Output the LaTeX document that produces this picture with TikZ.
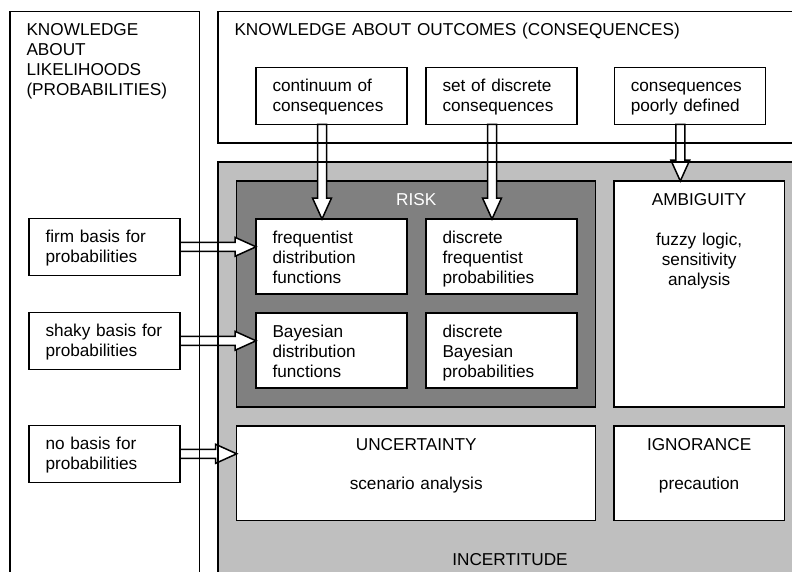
\documentclass[tikz,border=0pt]{standalone}
\usepackage{fontspec}
\setmainfont{Liberation Sans}
\usetikzlibrary{positioning,calc}

\definecolor{incertgray}{gray}{0.75}
\definecolor{riskgray}{gray}{0.5}

\tikzset{
    every node/.style={font=\fontsize{17.2}{20}\selectfont},
    box/.style={draw, fill=white, line width=1.5pt, outer sep=0pt, anchor=north west,
        align=left, inner xsep=16.5pt, inner ysep=5pt, text height=19pt},
    smallbox/.style={box, text width=118pt, text depth=28pt},
    riskbox/.style={box, text width=118pt, text depth=46pt},
    fatarrow/.style={draw, fill=white, line width=1.5pt,
        to path={($(\tikztostart)!4.5pt!90:(\tikztotarget)$)
            -- ($(\tikztotarget)!21pt!(\tikztostart)!4.5pt!90:(\tikztotarget)$)
            -- ($(\tikztotarget)!21pt!(\tikztostart)!9.5pt!90:(\tikztotarget)$)
            -- (\tikztotarget)
            -- ($(\tikztotarget)!21pt!(\tikztostart)!9.5pt!-90:(\tikztotarget)$)
            -- ($(\tikztotarget)!21pt!(\tikztostart)!4.5pt!-90:(\tikztotarget)$)
            -- ($(\tikztostart)!4.5pt!-90:(\tikztotarget)$) -- cycle}}
}

\begin{document}
\begin{tikzpicture}[x=1pt, y=-1pt]
    \useasboundingbox (0,0) rectangle (792,571);
    \clip (0,0) rectangle (792,571);

    \node[box, text width=156.5pt, text depth=541pt] (likeli) at (10,11.7)
        {KNOWLEDGE\\ABOUT\\LIKELIHOODS\\(PROBABILITIES)};
    \node[box, text width=549pt, text depth=102.3pt] (outc) at (218,11.7)
        {KNOWLEDGE ABOUT OUTCOMES (CONSEQUENCES)};
    \node[box, fill=incertgray, minimum width=582pt, minimum height=420pt] (incert) at (218,162) {};

    \node[box, fill=riskgray, text=white, align=center, text width=326pt, text depth=197pt,
        below right=19pt and 18.7pt of incert.north west] (risk) {RISK};
    \node[riskbox, below right=38pt and 19.3pt of risk.north west] (freq) {frequentist\\distribution\\functions};
    \node[riskbox, right=19pt of freq] (dfreq) {discrete\\frequentist\\probabilities};
    \node[riskbox, below=19pt of freq] (bayes) {Bayesian\\distribution\\functions};
    \node[riskbox, right=19pt of bayes] (dbayes) {discrete\\Bayesian\\probabilities};

    \node[box, align=center, text width=137.3pt, text depth=197pt, right=18.3pt of risk] (amb)
        {AMBIGUITY\\[20pt]fuzzy logic,\\sensitivity\\analysis};
    \node[box, align=center, text width=326pt, text depth=65.7pt, below=19pt of risk] (unc)
        {UNCERTAINTY\\[19pt]scenario analysis};
    \node[box, align=center, text width=137.3pt, text depth=65.7pt, right=18.3pt of unc] (ign)
        {IGNORANCE\\[19pt]precaution};
    \node[anchor=base] (incertlbl) at (510,565) {INCERTITUDE};

    \node[smallbox, above=94.7pt of freq] (cont) {continuum of\\consequences};
    \node[smallbox, right=19pt of cont] (dset) {set of discrete\\consequences};
    \node[smallbox, right=37.3pt of dset] (poor) {consequences\\poorly defined};

    \node[smallbox, below right=206.6pt and 19pt of likeli.north west] (firm) {firm basis for\\probabilities};
    \node[smallbox, below=37pt of firm] (shaky) {shaky basis for\\probabilities};
    \node[smallbox, below=56pt of shaky] (nobasis) {no basis for\\probabilities};

    \draw[fatarrow] ([xshift=-9.5pt]cont.south) to ([xshift=-9.5pt]freq.north);
    \draw[fatarrow] ([xshift=-9.5pt]dset.south) to ([xshift=-9.5pt]dfreq.north);
    \draw[fatarrow] ([xshift=-9.5pt]poor.south) to ([xshift=-9.5pt]poor.south |- amb.north);
    \draw[fatarrow] (firm.east) to (firm.east -| freq.west);
    \draw[fatarrow] (shaky.east) to (shaky.east -| bayes.west);
    \draw[fatarrow] (nobasis.east) to (nobasis.east -| unc.west);

    \draw[line width=1.5pt] (likeli.north west) rectangle (likeli.south east);
    \draw[line width=1.5pt] (outc.north west) rectangle (outc.south east);
    \draw[line width=1.5pt] (incert.north west) rectangle (incert.south east);
\end{tikzpicture}
\end{document}
